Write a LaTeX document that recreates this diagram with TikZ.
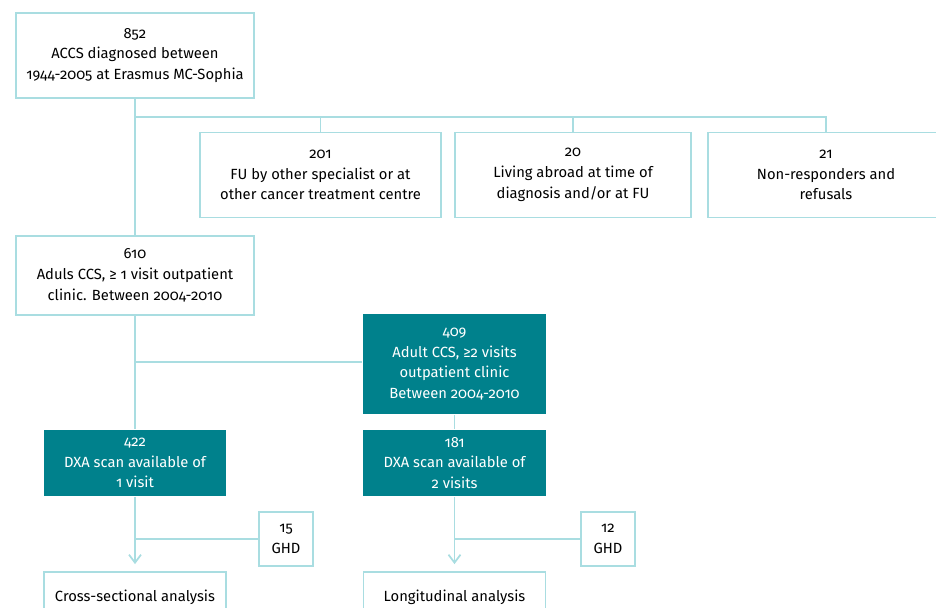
\documentclass[tikz,border=0pt]{standalone}
\usepackage{fontspec}
\setmainfont{Fira Sans}[RawFeature=+onum]
\usetikzlibrary{arrows.meta}
\definecolor{mycyan}{HTML}{A9DDE1}
\definecolor{myteal}{HTML}{00818C}
\tikzset{
	whitebox/.style={
			draw=mycyan,
			line width=1pt,
			fill=white,
			align=center,
			inner sep=0pt,
			font=\fontsize{8.4}{11.8}\selectfont
		},
	tealbox/.style={
			whitebox,
			draw=none,
			fill=myteal,
			text=white
		},
	link/.style={
			draw=mycyan,
			line width=1pt
		}
}

\begin{document}
\begin{tikzpicture}[x=0.02cm, y=-0.02cm]
\useasboundingbox (0,0) rectangle (936,608);
\node[whitebox, minimum width=4.76cm, minimum height=1.70cm] (diag) at (135,55.5) {852\\ACCS diagnosed between\\1944-2005 at Erasmus MC-Sophia};
\node[whitebox, minimum width=4.82cm, minimum height=1.70cm] (fu) at (320.5,175) {201\\FU by other specialist or at\\other cancer treatment centre};
\node[whitebox, minimum width=4.72cm, minimum height=1.70cm] (abroad) at (573,175) {20\\Living abroad at time of\\diagnosis and/or at FU};
\node[whitebox, minimum width=4.72cm, minimum height=1.70cm] (nonresp) at (826,175) {21\\Non-responders and\\refusals};
\node[whitebox, minimum width=4.76cm, minimum height=1.58cm] (adult) at (135,275.5) {610\\Aduls CCS, ≥ 1 visit outpatient\\clinic. Between 2004-2010};
\node[tealbox, minimum width=3.66cm, minimum height=2.00cm] (twovisit) at (454.5,364) {409\\Adult CCS, ≥2 visits\\outpatient clinic\\Between 2004-2010};
\node[tealbox, minimum width=3.64cm, minimum height=1.32cm] (dxaone) at (135,463) {422\\DXA scan available of\\1 visit};
\node[tealbox, minimum width=3.66cm, minimum height=1.32cm] (dxatwo) at (454.5,463) {181\\DXA scan available of\\2 visits};
\node[whitebox, minimum width=1.08cm, minimum height=1.08cm] (ghdone) at (286,539) {15\\GHD};
\node[whitebox, minimum width=1.08cm, minimum height=1.08cm] (ghdtwo) at (608,539) {12\\GHD};
\node[whitebox, minimum width=3.64cm, minimum height=1.00cm] (cross) at (135,597) {Cross-sectional analysis};
\node[whitebox, minimum width=3.64cm, minimum height=1.00cm] (longi) at (454.5,597) {Longitudinal analysis};

\coordinate (split1) at (135,117);
\coordinate (split2) at (135,362);

\draw[link] (diag.south) -- (adult.north);
\draw[link] (split1) -| (nonresp.north);
\draw[link] (fu.north) -- (fu.north |- split1);
\draw[link] (abroad.north) -- (abroad.north |- split1);

\draw[link] (adult.south) -- (dxaone.north);
\draw[link] (split2) -- (split2 -| twovisit.west);
\draw[link] (twovisit.south) -- (dxatwo.north);

\draw[link, -{Straight Barb[length=1.6mm, width=2.4mm]}, shorten >=0.14cm] (dxaone.south) -- (cross.north);
\draw[link] (dxaone.south |- ghdone.west) -- (ghdone.west);
\draw[link, -{Straight Barb[length=1.6mm, width=2.4mm]}, shorten >=0.14cm] (dxatwo.south) -- (longi.north);
\draw[link] (dxatwo.south |- ghdtwo.west) -- (ghdtwo.west);
\end{tikzpicture}
\end{document}
